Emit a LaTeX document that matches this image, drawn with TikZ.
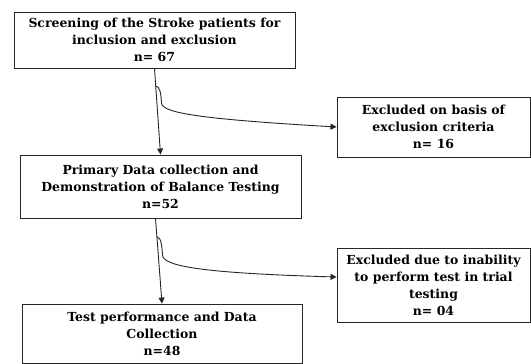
\documentclass[tikz,border=0pt]{standalone}
\usepackage{fontspec}
\setmainfont{DejaVu Serif}
\usetikzlibrary{arrows.meta,calc}
\begin{document}
\begin{tikzpicture}[x=1bp,y=-1bp,
  box/.style={draw=black!85, line width=0.9bp, align=center, inner sep=0pt,
    font=\fontsize{12.5}{17}\selectfont\bfseries},
  arr/.style={draw=black!85, line width=0.9bp, -{Triangle[length=6bp,width=6bp]}},
  ln/.style={draw=black!85, line width=0.9bp}]
\useasboundingbox (0,0) rectangle (531,363);
\node[box, minimum width=281bp, minimum height=56bp] (b1) at (154.5,40)
  {Screening of the Stroke patients for\\inclusion and exclusion\\n= 67};
\node[box, minimum width=193bp, minimum height=60bp] (b2) at (433.5,127)
  {Excluded on basis of\\exclusion criteria\\n= 16};
\node[box, minimum width=281bp, minimum height=63bp] (b3) at (160.5,186.5)
  {Primary Data collection and\\Demonstration of Balance Testing\\n=52};
\node[box, minimum width=193bp, minimum height=74bp] (b4) at (433.5,285)
  {Excluded due to inability\\to perform test in trial\\testing\\n= 04};
\node[box, minimum width=280bp, minimum height=59bp] (b5) at (162,333.5)
  {Test performance and Data\\Collection\\n=48};
\draw[arr] (b1.south) -- (b3.north);
\draw[arr] ([xshift=-5bp]b3.south) -- (b5.north);
\coordinate (j1) at (155.7,86);
\coordinate (j2) at (156.9,237);
\draw[arr] (j1) .. controls (160,86) and (161,94) .. (161.5,103)
  .. controls (162,113) and (200,119) .. (b2.west);
\draw[arr] (j2) .. controls (161,237) and (162,246) .. (162.5,255)
  .. controls (163,266) and (200,273) .. ($(b4.west)+(0,-8)$);
\end{tikzpicture}
\end{document}
